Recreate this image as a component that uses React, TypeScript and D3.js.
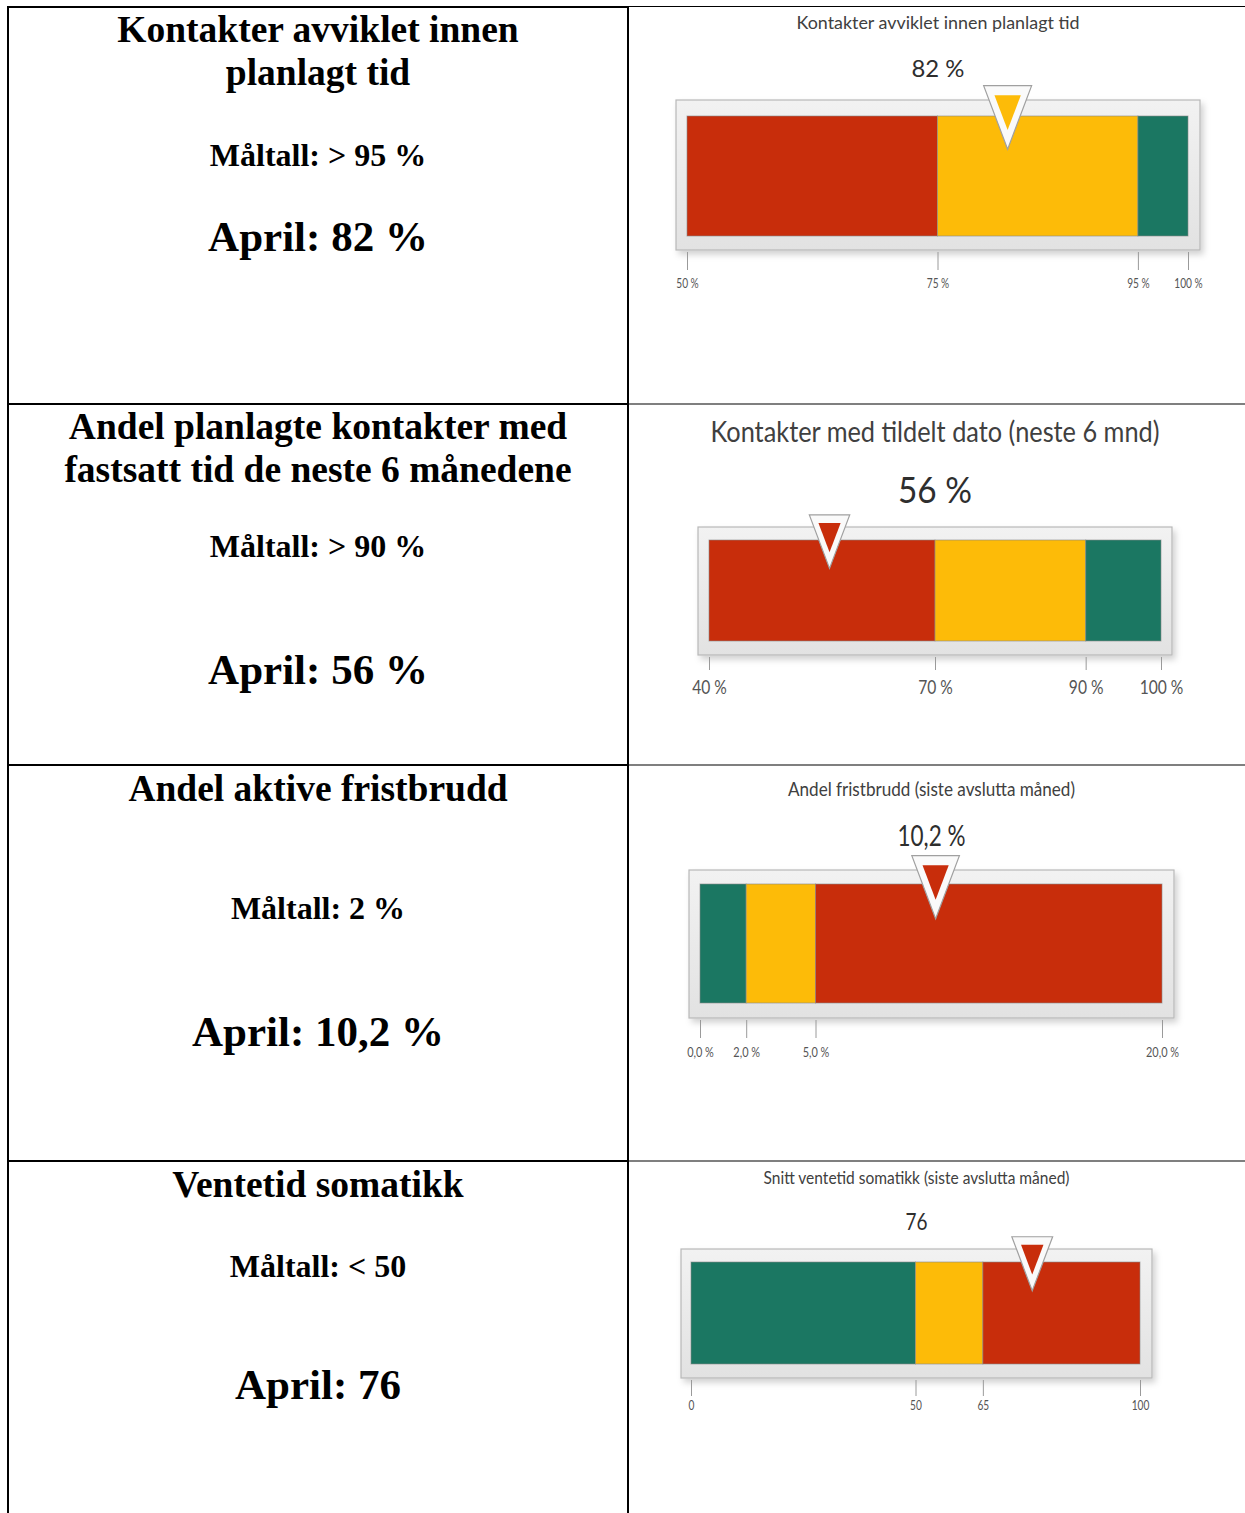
import React, { useEffect, useRef } from "react";
import * as d3 from "d3";

// left column text
const rowTitles = [
  ["Kontakter avviklet innen", "planlagt tid"],
  ["Andel planlagte kontakter med", "fastsatt tid de neste 6 månedene"],
  ["Andel aktive fristbrudd"],
  ["Ventetid somatikk"],
];
const targets = ["Måltall: > 95 %", "Måltall: > 90 %", "Måltall: 2 %", "Måltall: < 50"];
const results = ["April: 82 %", "April: 56 %", "April: 10,2 %", "April: 76"];

// gauges
const gaugeTitles = [
  "Kontakter avviklet innen planlagt tid",
  "Kontakter med tildelt dato (neste 6 mnd)",
  "Andel fristbrudd (siste avslutta måned)",
  "Snitt ventetid somatikk (siste avslutta måned)",
];
const gaugeValues = [82, 56, 10.2, 76];
const gaugeValueLabels = ["82 %", "56 %", "10,2 %", "76"];
const gaugeBreaks = [
  [50, 75, 95, 100],
  [40, 70, 90, 100],
  [0, 2, 5, 20],
  [0, 50, 65, 100],
];
const gaugeBands = [
  ["bad", "warn", "good"],
  ["bad", "warn", "good"],
  ["good", "warn", "bad"],
  ["good", "warn", "bad"],
];
const gaugeTickLabels = [
  ["50 %", "75 %", "95 %", "100 %"],
  ["40 %", "70 %", "90 %", "100 %"],
  ["0,0 %", "2,0 %", "5,0 %", "20,0 %"],
  ["0", "50", "65", "100"],
];

const bandColor = { bad: "#c82d0b", warn: "#fdbb08", good: "#1b7762" };

const W = 1245;
const H = 1513;

const leftLayout = [
  { title: [42, 85], titleSize: 37.5, target: 166, targetSize: 32, result: 251, resultSize: 43 },
  { title: [439, 482], titleSize: 37.5, target: 557, targetSize: 32, result: 684, resultSize: 43 },
  { title: [801], titleSize: 37.5, target: 919, targetSize: 32, result: 1046, resultSize: 43 },
  { title: [1197], titleSize: 37.5, target: 1277, targetSize: 32, result: 1399, resultSize: 43 },
];

const gaugeLayout = [
  { frame: [676, 100, 1200, 250], bar: [687, 116, 1188, 236], titleY: 22, titleSize: 17, titleW: 283, valueY: 67, valueSize: 24, valueW: 53, tickTop: 252, tickLen: 18, labelY: 283, labelSize: 13 },
  { frame: [698, 527, 1172, 655], bar: [709, 540, 1161, 641], titleY: 431, titleSize: 28, titleW: 449, valueY: 488, valueSize: 37, valueW: 74, tickTop: 657, tickLen: 13, labelY: 686, labelSize: 20 },
  { frame: [689, 870, 1174, 1018], bar: [700, 884, 1162, 1003], titleY: 788, titleSize: 20, titleW: 287, valueY: 835, valueSize: 28, valueW: 68, tickTop: 1020, tickLen: 18, labelY: 1051, labelSize: 14 },
  { frame: [681, 1249, 1152, 1378], bar: [691, 1262, 1140, 1364], titleY: 1177, titleSize: 17, titleW: 306, valueY: 1221, valueSize: 23, valueW: 22, tickTop: 1380, tickLen: 16, labelY: 1405, labelSize: 13 },
];

const rowLines = [404, 765, 1161];

const sans = "Lato, 'Open Sans', sans-serif";

const App = () => {
  const ref = useRef<SVGSVGElement>(null);

  useEffect(() => {
    const svg = d3.select(ref.current);
    svg.selectAll("*").remove();

    const defs = svg.append("defs");
    defs
      .append("filter")
      .attr("id", "shadow")
      .attr("x", "-5%")
      .attr("y", "-10%")
      .attr("width", "115%")
      .attr("height", "130%")
      .append("feDropShadow")
      .attr("dx", 3)
      .attr("dy", 4)
      .attr("stdDeviation", 3)
      .attr("flood-color", "#000")
      .attr("flood-opacity", 0.18);
    const grad = defs
      .append("linearGradient")
      .attr("id", "frameFill")
      .attr("x1", 0)
      .attr("y1", 0)
      .attr("x2", 0)
      .attr("y2", 1);
    grad.append("stop").attr("offset", "0%").attr("stop-color", "#f2f2f2");
    grad.append("stop").attr("offset", "100%").attr("stop-color", "#e2e2e2");

    // table grid
    const grid = svg.append("g").attr("stroke", "#000");
    grid.append("line").attr("x1", 8).attr("x2", 8).attr("y1", 6).attr("y2", H).attr("stroke-width", 2);
    grid.append("line").attr("x1", 628).attr("x2", 628).attr("y1", 6).attr("y2", H).attr("stroke-width", 2);
    grid.append("line").attr("x1", 7).attr("x2", 628).attr("y1", 7).attr("y2", 7).attr("stroke-width", 2);
    grid.append("line").attr("x1", 628).attr("x2", W).attr("y1", 6.5).attr("y2", 6.5).attr("stroke-width", 1.2);
    rowLines.forEach(y => {
      grid.append("line").attr("x1", 7).attr("x2", 628).attr("y1", y).attr("y2", y).attr("stroke-width", 2);
      grid.append("line").attr("x1", 628).attr("x2", W).attr("y1", y).attr("y2", y).attr("stroke-width", 1.2);
    });

    // left column
    const left = svg
      .append("g")
      .attr("font-family", "'Liberation Serif', 'Times New Roman', serif")
      .attr("font-weight", "bold")
      .attr("fill", "#000")
      .attr("text-anchor", "middle");
    rowTitles.forEach((lines, i) => {
      const l = leftLayout[i];
      lines.forEach((t, j) => {
        left.append("text").attr("x", 318).attr("y", l.title[j]).attr("font-size", l.titleSize).text(t);
      });
      left.append("text").attr("x", 318).attr("y", l.target).attr("font-size", l.targetSize).text(targets[i]);
      left.append("text").attr("x", 318).attr("y", l.result).attr("font-size", l.resultSize).text(results[i]);
    });

    // gauges
    gaugeTitles.forEach((title, i) => {
      const L = gaugeLayout[i];
      const breaks = gaugeBreaks[i];
      const [fx0, fy0, fx1, fy1] = L.frame;
      const [bx0, by0, bx1, by1] = L.bar;
      const x = d3
        .scaleLinear()
        .domain([breaks[0], breaks[breaks.length - 1]])
        .range([bx0, bx1]);
      const g = svg.append("g").attr("font-family", sans);
      const cx = (fx0 + fx1) / 2;

      g.append("text")
        .attr("x", cx)
        .attr("y", L.titleY)
        .attr("text-anchor", "middle")
        .attr("dominant-baseline", "central")
        .attr("font-size", L.titleSize)
        .attr("fill", "#404040")
        .attr("textLength", L.titleW)
        .attr("lengthAdjust", "spacingAndGlyphs")
        .text(title);

      g.append("text")
        .attr("x", cx)
        .attr("y", L.valueY)
        .attr("text-anchor", "middle")
        .attr("dominant-baseline", "central")
        .attr("font-size", L.valueSize)
        .attr("fill", "#2e2e2e")
        .attr("textLength", L.valueW)
        .attr("lengthAdjust", "spacingAndGlyphs")
        .text(gaugeValueLabels[i]);

      // frame
      g.append("rect")
        .attr("x", fx0)
        .attr("y", fy0)
        .attr("width", fx1 - fx0)
        .attr("height", fy1 - fy0)
        .attr("fill", "url(#frameFill)")
        .attr("stroke", "#b8b8b8")
        .attr("stroke-width", 1.2)
        .attr("filter", "url(#shadow)");

      // bands
      const segs = gaugeBands[i].map((b, k) => ({ b, from: breaks[k], to: breaks[k + 1] }));
      g.append("g")
        .selectAll("rect")
        .data(segs)
        .join("rect")
        .attr("x", d => x(d.from))
        .attr("y", by0)
        .attr("width", d => x(d.to) - x(d.from))
        .attr("height", by1 - by0)
        .attr("fill", d => bandColor[d.b])
        .attr("stroke", "#8a8a8a")
        .attr("stroke-opacity", 0.6)
        .attr("stroke-width", 1);

      // axis
      const axis = d3
        .axisBottom(x)
        .tickValues(breaks)
        .tickSize(L.tickLen)
        .tickFormat((d, k) => gaugeTickLabels[i][k]);
      const ax = g.append("g").attr("transform", `translate(0,${L.tickTop})`).call(axis);
      ax.select(".domain").remove();
      ax.selectAll(".tick line").attr("stroke", "#9a9a9a").attr("stroke-width", 1);
      ax.selectAll(".tick text")
        .attr("y", L.labelY - L.tickTop)
        .attr("dy", null)
        .attr("dominant-baseline", "central")
        .attr("font-family", sans)
        .attr("font-size", L.labelSize)
        .attr("fill", "#555")
        .each(function () {
          const el = this as SVGTextElement;
          const w = el.getComputedTextLength();
          el.setAttribute("textLength", String(w * 0.78));
          el.setAttribute("lengthAdjust", "spacingAndGlyphs");
        });

      // marker
      const value = gaugeValues[i];
      const bandIdx = Math.max(0, d3.bisectRight(breaks, value) - 1);
      const markerColor = bandColor[gaugeBands[i][Math.min(bandIdx, gaugeBands[i].length - 1)]];
      const bh = by1 - by0;
      const tw = bh * 0.4;
      const th = bh * 0.53;
      const top = fy0 - bh * 0.12;
      const mx = x(value);
      const outer: [number, number][] = [
        [mx - tw / 2, top],
        [mx + tw / 2, top],
        [mx, top + th],
      ];
      const cy = top + th / 3;
      const inner = outer.map(([px, py]) => [mx + (px - mx) * 0.55, cy + (py - cy) * 0.55] as [number, number]);
      const line = d3.line().curve(d3.curveLinearClosed);
      g.append("path")
        .attr("d", line(outer))
        .attr("fill", "#fafafa")
        .attr("stroke", "#a0a0a0")
        .attr("stroke-width", 1.2)
        .attr("stroke-linejoin", "miter");
      g.append("path").attr("d", line(inner)).attr("fill", markerColor);
    });
  }, []);

  return (
    <div style={{ position: "absolute", left: 0, top: 0, background: "#fff" }}>
      <svg ref={ref} width={W} height={H} style={{ display: "block" }} />
    </div>
  );
};

export default App;
